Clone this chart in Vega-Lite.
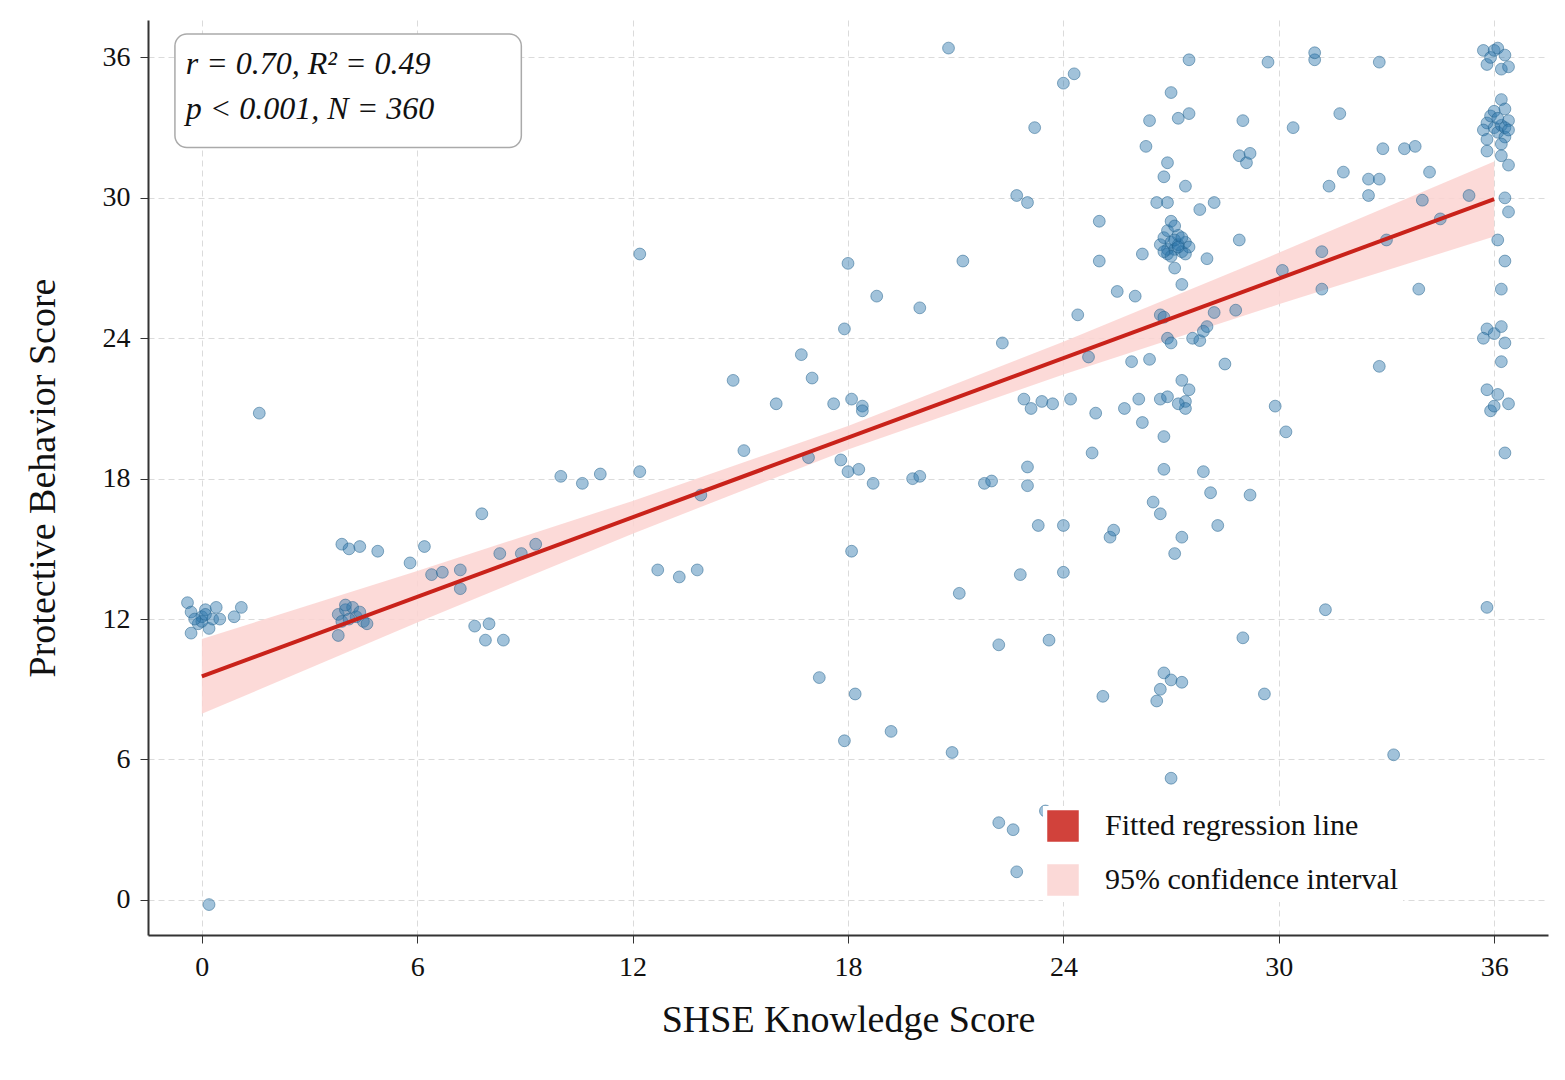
{
  "$schema": "https://vega.github.io/schema/vega-lite/v6.json",
  "autosize": "none",
  "width": 1400,
  "height": 915,
  "padding": {"left": 148, "top": 20, "right": 17, "bottom": 145},
  "config": {
    "font": "Liberation Serif",
    "view": {"stroke": null},
    "axis": {"labelFont": "Liberation Serif", "titleFont": "Liberation Serif", "labelFontSize": 28, "titleFontSize": 38, "titleFontWeight": "normal", "labelColor": "#111", "titleColor": "#111", "gridColor": "#ccc", "gridDash": [6, 4], "gridOpacity": 0.7, "domainColor": "#333", "domainWidth": 2, "tickColor": "#333", "tickSize": 8, "labelPadding": 10}
  },
  "layer": [
    {
      "data": {"values": [{"x0": -0.75, "x1": 8.9, "y0": 32.15, "y1": 37.0}]},
      "mark": {"type": "rect", "fill": "white", "stroke": "#aaa", "strokeWidth": 1.5, "cornerRadius": 12},
      "encoding": {"x": {"field": "x0", "type": "quantitative"}, "x2": {"field": "x1"}, "y": {"field": "y0", "type": "quantitative"}, "y2": {"field": "y1"}}
    },
    {
      "data": {"values": [
        {"t": "r = 0.70, R² = 0.49", "x": -0.45, "y": 35.7},
        {"t": "p < 0.001, N = 360", "x": -0.45, "y": 33.8}
      ]},
      "mark": {"type": "text", "align": "left", "baseline": "middle", "fontSize": 32, "fontStyle": "italic", "color": "#111"},
      "encoding": {"x": {"field": "x", "type": "quantitative"}, "y": {"field": "y", "type": "quantitative"}, "text": {"field": "t"}}
    },
    {
      "data": {"values": [
        {"x": 0, "lo": 7.95, "hi": 11.15, "s": "95% confidence interval"},
        {"x": 6, "lo": 11.85, "hi": 14.05, "s": "95% confidence interval"},
        {"x": 12, "lo": 15.65, "hi": 17.05, "s": "95% confidence interval"},
        {"x": 18, "lo": 19.25, "hi": 20.25, "s": "95% confidence interval"},
        {"x": 24, "lo": 22.45, "hi": 23.85, "s": "95% confidence interval"},
        {"x": 30, "lo": 25.45, "hi": 27.65, "s": "95% confidence interval"},
        {"x": 36, "lo": 28.35, "hi": 31.55, "s": "95% confidence interval"}
      ]},
      "mark": {"type": "area", "opacity": 0.85},
      "encoding": {
        "x": {"field": "x", "type": "quantitative", "scale": {"domain": [-1.5, 37.5], "nice": false, "zero": false}, "axis": {"values": [0, 6, 12, 18, 24, 30, 36], "title": "SHSE Knowledge Score", "titlePadding": 20}},
        "y": {"field": "lo", "type": "quantitative", "scale": {"domain": [-1.5, 37.6], "nice": false, "zero": false}, "axis": {"values": [0, 6, 12, 18, 24, 30, 36], "title": "Protective Behavior Score", "titlePadding": 40}},
        "y2": {"field": "hi"},
        "color": {"field": "s", "type": "nominal"}
      }
    },
    {
      "data": {"values": [
        {"x":-0.4,"y":12.7},{"x":-0.3,"y":12.3},{"x":-0.1,"y":11.8},{"x":0,"y":12.1},{"x":0.1,"y":12.4},{"x":0.2,"y":11.6},{"x":0.3,"y":12.0},{"x":-0.3,"y":11.4},{"x":0.4,"y":12.5},{"x":0.5,"y":12.0},{"x":0.9,"y":12.1},{"x":1.1,"y":12.5},{"x":0,"y":11.9},{"x":-0.2,"y":12.0},{"x":0.1,"y":12.2},{"x":1.6,"y":20.8},
        {"x":3.8,"y":12.2},{"x":4.0,"y":12.4},{"x":4.2,"y":12.5},{"x":4.3,"y":12.1},{"x":3.9,"y":11.9},{"x":4.1,"y":12.0},{"x":4.5,"y":11.9},{"x":4.4,"y":12.3},{"x":3.8,"y":11.3},{"x":4.6,"y":11.8},{"x":4.0,"y":12.6},{"x":3.9,"y":15.2},{"x":4.1,"y":15.0},{"x":4.4,"y":15.1},{"x":4.9,"y":14.9},{"x":5.8,"y":14.4},{"x":6.2,"y":15.1},{"x":6.4,"y":13.9},{"x":6.7,"y":14.0},{"x":7.2,"y":14.1},{"x":7.2,"y":13.3},{"x":7.8,"y":16.5},{"x":7.6,"y":11.7},{"x":7.9,"y":11.1},{"x":8.0,"y":11.8},{"x":8.3,"y":14.8},{"x":8.4,"y":11.1},{"x":8.9,"y":14.8},{"x":9.3,"y":15.2},{"x":10.0,"y":18.1},{"x":10.6,"y":17.8},{"x":11.1,"y":18.2},{"x":12.2,"y":18.3},{"x":12.2,"y":27.6},{"x":12.7,"y":14.1},{"x":13.3,"y":13.8},{"x":13.8,"y":14.1},{"x":13.9,"y":17.3},
        {"x":14.8,"y":22.2},{"x":15.1,"y":19.2},{"x":16.0,"y":21.2},{"x":16.7,"y":23.3},{"x":16.9,"y":18.9},{"x":17.0,"y":22.3},{"x":17.2,"y":9.5},{"x":17.6,"y":21.2},{"x":17.8,"y":18.8},{"x":17.9,"y":24.4},{"x":17.9,"y":6.8},{"x":18.0,"y":18.3},{"x":18.1,"y":14.9},{"x":18.1,"y":21.4},{"x":18.0,"y":27.2},{"x":18.2,"y":8.8},{"x":18.3,"y":18.4},{"x":18.4,"y":21.1},{"x":18.4,"y":20.9},{"x":18.7,"y":17.8},{"x":18.8,"y":25.8},{"x":19.2,"y":7.2},{"x":19.8,"y":18.0},{"x":20.0,"y":18.1},{"x":20.0,"y":25.3},{"x":20.8,"y":36.4},{"x":20.9,"y":6.3},{"x":21.1,"y":13.1},{"x":21.2,"y":27.3},{"x":21.8,"y":17.8},{"x":22.0,"y":17.9},{"x":22.2,"y":10.9},{"x":22.2,"y":3.3},{"x":22.3,"y":23.8},{"x":22.6,"y":3.0},{"x":22.7,"y":30.1},{"x":22.7,"y":1.2},{"x":22.8,"y":13.9},{"x":22.9,"y":21.4},{"x":23.0,"y":29.8},{"x":23.0,"y":18.5},{"x":23.0,"y":17.7},{"x":23.1,"y":21.0},{"x":23.2,"y":33.0},{"x":23.3,"y":16.0},{"x":23.4,"y":21.3},{"x":23.5,"y":3.8},{"x":23.6,"y":11.1},{"x":23.7,"y":21.2},{"x":24.0,"y":34.9},{"x":24.0,"y":16.0},{"x":24.0,"y":14.0},{"x":24.2,"y":21.4},{"x":24.3,"y":35.3},{"x":24.4,"y":25.0},{"x":24.7,"y":23.2},{"x":24.8,"y":19.1},{"x":24.9,"y":20.8},{"x":25.0,"y":29.0},{"x":25.0,"y":27.3},{"x":25.1,"y":8.7},{"x":25.3,"y":15.5},{"x":25.4,"y":15.8},{"x":25.5,"y":26.0},{"x":25.7,"y":21.0},{"x":25.9,"y":23.0},{"x":26.0,"y":25.8},{"x":26.2,"y":20.4},{"x":26.1,"y":21.4},{"x":26.2,"y":27.6},{"x":26.3,"y":32.2},{"x":26.4,"y":33.3},{"x":26.4,"y":23.1},{"x":26.5,"y":17.0},{"x":26.6,"y":29.8},{"x":26.9,"y":31.5},{"x":26.9,"y":27.8},
        {"x":26.7,"y":28.0},{"x":26.8,"y":28.3},{"x":26.9,"y":27.6},{"x":27.0,"y":28.1},{"x":27.1,"y":27.8},{"x":27.2,"y":28.4},{"x":27.3,"y":27.7},{"x":27.4,"y":28.1},{"x":27.5,"y":27.9},{"x":27.0,"y":27.5},{"x":27.2,"y":28.0},{"x":26.8,"y":27.7},{"x":27.1,"y":28.2},{"x":27.3,"y":28.3},{"x":27.4,"y":27.6},{"x":26.9,"y":28.6},{"x":27.0,"y":29.0},{"x":27.2,"y":27.9},
        {"x":26.7,"y":25.0},{"x":26.8,"y":24.9},{"x":26.9,"y":24.0},{"x":27.0,"y":23.8},{"x":26.7,"y":21.4},{"x":26.9,"y":21.5},{"x":27.4,"y":21.3},{"x":27.4,"y":21.0},{"x":27.3,"y":22.2},{"x":27.5,"y":21.8},{"x":26.8,"y":19.8},{"x":26.8,"y":18.4},{"x":26.7,"y":16.5},{"x":27.1,"y":14.8},{"x":27.3,"y":15.5},{"x":26.8,"y":9.7},{"x":26.7,"y":9.0},{"x":26.6,"y":8.5},{"x":27.0,"y":9.4},{"x":27.3,"y":9.3},{"x":27.0,"y":5.2},{"x":26.8,"y":30.9},{"x":26.9,"y":29.8},{"x":27.1,"y":28.8},{"x":27.4,"y":30.5},{"x":27.3,"y":26.3},{"x":27.1,"y":27.0},{"x":27.0,"y":34.5},{"x":27.2,"y":33.4},{"x":27.5,"y":33.6},{"x":27.5,"y":35.9},{"x":27.2,"y":21.2},
        {"x":27.6,"y":24.0},{"x":27.8,"y":23.9},{"x":27.9,"y":24.3},{"x":28.0,"y":24.5},{"x":27.8,"y":29.5},{"x":27.9,"y":18.3},{"x":28.0,"y":27.4},{"x":28.1,"y":17.4},{"x":28.2,"y":29.8},{"x":28.3,"y":16.0},{"x":28.2,"y":25.1},{"x":28.5,"y":22.9},{"x":28.8,"y":25.2},{"x":28.9,"y":28.2},{"x":28.9,"y":31.8},{"x":29.0,"y":33.3},{"x":29.0,"y":11.2},{"x":29.1,"y":31.5},{"x":29.2,"y":31.9},{"x":29.2,"y":17.3},{"x":29.6,"y":8.8},{"x":29.7,"y":35.8},{"x":29.9,"y":21.1},{"x":30.1,"y":26.9},{"x":30.2,"y":20.0},{"x":30.4,"y":33.0},{"x":31.0,"y":35.9},{"x":31.0,"y":36.2},{"x":31.2,"y":27.7},{"x":31.2,"y":26.1},{"x":31.3,"y":12.4},{"x":31.4,"y":30.5},{"x":31.7,"y":33.6},{"x":31.8,"y":31.1},{"x":32.5,"y":30.8},{"x":32.5,"y":30.1},{"x":32.8,"y":30.8},{"x":32.8,"y":35.8},{"x":32.9,"y":32.1},{"x":32.8,"y":22.8},{"x":33.0,"y":28.2},{"x":33.2,"y":6.2},{"x":32.7,"y":2.2},{"x":33.5,"y":32.1},{"x":33.8,"y":32.2},{"x":33.9,"y":26.1},{"x":34.0,"y":29.9},{"x":34.2,"y":31.1},{"x":34.5,"y":29.1},{"x":35.3,"y":30.1},
        {"x":35.7,"y":36.3},{"x":35.8,"y":35.7},{"x":35.9,"y":36.0},{"x":36.0,"y":36.3},{"x":36.1,"y":36.4},{"x":36.2,"y":35.5},{"x":36.3,"y":36.1},{"x":36.4,"y":35.6},{"x":36.2,"y":34.2},{"x":36.3,"y":33.8},{"x":35.8,"y":33.2},{"x":35.9,"y":33.5},{"x":36.0,"y":33.0},{"x":36.1,"y":32.8},{"x":36.2,"y":33.1},{"x":36.3,"y":32.6},{"x":36.4,"y":33.3},{"x":35.7,"y":32.9},{"x":35.8,"y":32.5},{"x":36.0,"y":33.7},{"x":36.1,"y":33.4},{"x":36.3,"y":33.0},{"x":36.4,"y":32.9},{"x":36.2,"y":32.3},{"x":35.8,"y":32.0},{"x":36.2,"y":31.8},{"x":36.4,"y":31.4},{"x":36.3,"y":30.0},{"x":36.4,"y":29.4},{"x":36.1,"y":28.2},{"x":36.3,"y":27.3},{"x":36.2,"y":26.1},{"x":35.8,"y":24.4},{"x":35.7,"y":24.0},{"x":36.0,"y":24.2},{"x":36.2,"y":24.5},{"x":36.3,"y":23.8},{"x":36.2,"y":23.0},{"x":35.8,"y":21.8},{"x":36.1,"y":21.6},{"x":35.9,"y":20.9},{"x":36.0,"y":21.1},{"x":36.4,"y":21.2},{"x":36.3,"y":19.1},{"x":35.8,"y":12.5},
        {"x":0.2,"y":-0.2}
      ]},
      "mark": {"type": "point", "filled": true, "size": 140, "fill": "#2e78ad", "fillOpacity": 0.45, "stroke": "#1f5f8b", "strokeOpacity": 0.5, "strokeWidth": 1},
      "encoding": {"x": {"field": "x", "type": "quantitative"}, "y": {"field": "y", "type": "quantitative"}}
    },
    {
      "data": {"values": [
        {"x": 0, "fit": 9.55, "s": "Fitted regression line"},
        {"x": 36, "fit": 29.95, "s": "Fitted regression line"}
      ]},
      "mark": {"type": "line", "strokeWidth": 4},
      "encoding": {
        "x": {"field": "x", "type": "quantitative"},
        "y": {"field": "fit", "type": "quantitative"},
        "color": {
          "field": "s", "type": "nominal",
          "scale": {"domain": ["Fitted regression line", "95% confidence interval"], "range": ["#c9221a", "#fbd3d1"]},
          "legend": {"title": null, "orient": "none", "legendX": 895, "legendY": 786, "labelFontSize": 30, "labelFont": "Liberation Serif", "labelColor": "#111", "labelLimit": 500, "symbolType": "square", "symbolSize": 900, "rowPadding": 18, "labelOffset": 26, "fillColor": "white", "padding": 4}
        }
      }
    }
  ]
}
